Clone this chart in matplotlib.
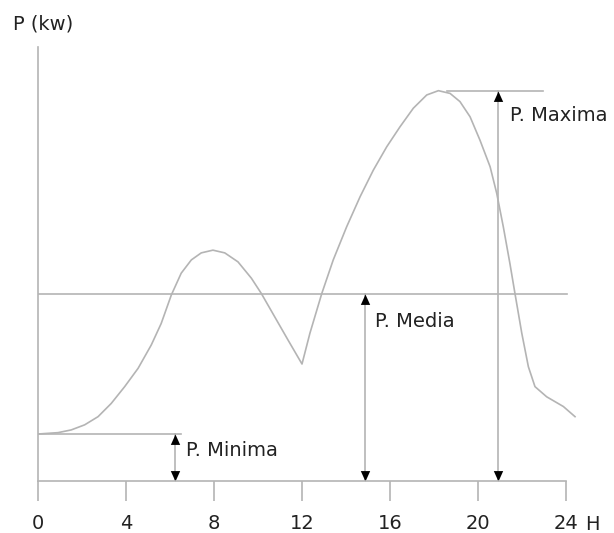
import numpy as np
import matplotlib
matplotlib.use('Agg')
import matplotlib.pyplot as plt

# load curve (hours, kW)
hours = [0, 0.91, 1.51, 2.12, 2.73, 3.33, 3.94, 4.55, 5.15, 5.6, 6.06, 6.51,
         6.97, 7.42, 7.95, 8.49, 9.09, 9.7, 10.15, 10.76, 11.36, 12.0,
         12.36, 12.9, 13.42, 14.03, 14.64, 15.24, 15.85, 16.45, 17.06, 17.67,
         18.2, 18.73, 19.18, 19.64, 20.09, 20.55, 20.85, 21.15, 21.45, 21.68,
         21.99, 22.29, 22.59, 23.12, 23.88, 24.41]
power = [12.05, 12.4, 13.1, 14.4, 16.5, 19.9, 24.2, 28.9, 34.9, 40.4, 47.7, 53.3,
         56.7, 58.5, 59.2, 58.5, 56.2, 52, 48.1, 42.1, 36.2, 30.0,
         37.9, 48.1, 56.7, 65.2, 72.9, 79.7, 85.7, 90.8, 95.6, 99.0,
         100.1, 99.4, 97.3, 93.4, 87.4, 80.6, 73.8, 65.2, 55.8, 48.1,
         37.9, 29.3, 24.2, 21.6, 19.1, 16.5]

p_min = 12
p_media = 48
p_max = 100

xticks = [0, 4, 8, 12, 16, 20, 24]

grey = '#b4b4b4'
plt.rcParams['font.family'] = ['DejaVu Sans']

fig = plt.figure(figsize=(6.14, 5.33), dpi=100)
ax = fig.add_axes([38 / 614, 52 / 533, 550 / 614, 434 / 533])
ax.set_xlim(0, 25)
ax.set_ylim(0, 111.3)

# the load curve
ax.plot(hours, power, color=grey, lw=1.2, solid_joinstyle='round')

# reference lines
ax.plot([0, 6.5], [p_min, p_min], color=grey, lw=1.2)
ax.plot([0, 24.05], [p_media, p_media], color=grey, lw=1.2)
ax.plot([18.6, 22.95], [p_max, p_max], color=grey, lw=1.2)

# arrows: grey shaft, black heads
up = [(0, 0), (-0.45, -1), (0.45, -1), (0, 0)]
down = [(0, 0), (-0.45, 1), (0.45, 1), (0, 0)]
for x, top in [(6.23, p_min), (14.85, p_media), (20.9, p_max)]:
    ax.plot([x, x], [0, top], color=grey, lw=1.2)
    ax.plot(x, top, marker=up, ms=15, color='black', mew=0)
    ax.plot(x, 0, marker=down, ms=15, color='black', mew=0)

txt = '#222222'
ax.text(6.75, 7.9, 'P. Minima', fontsize=14, color=txt, va='center')
ax.text(15.3, 40.8, 'P. Media', fontsize=14, color=txt, va='center')
ax.text(21.45, 93.8, 'P. Maxima', fontsize=14, color=txt, va='center')

fig.text(13 / 614, 1 - 24 / 533, 'P (kw)', fontsize=14, color=txt, va='center')
fig.text(585 / 614, 1 - 524 / 533, 'H', fontsize=14, color=txt, va='center')

# axes
for s in ['top', 'right']:
    ax.spines[s].set_visible(False)
for s in ['left', 'bottom']:
    ax.spines[s].set_color(grey)
    ax.spines[s].set_linewidth(1.2)
ax.spines['bottom'].set_bounds(0, 24)
ax.set_xticks(xticks)
ax.set_xticklabels([str(t) for t in xticks])
ax.tick_params(axis='x', direction='out', length=14.5, width=1.2, color=grey,
               labelsize=14, labelcolor=txt, pad=9)
ax.set_yticks([])

fig.savefig('out.png', dpi=100)
